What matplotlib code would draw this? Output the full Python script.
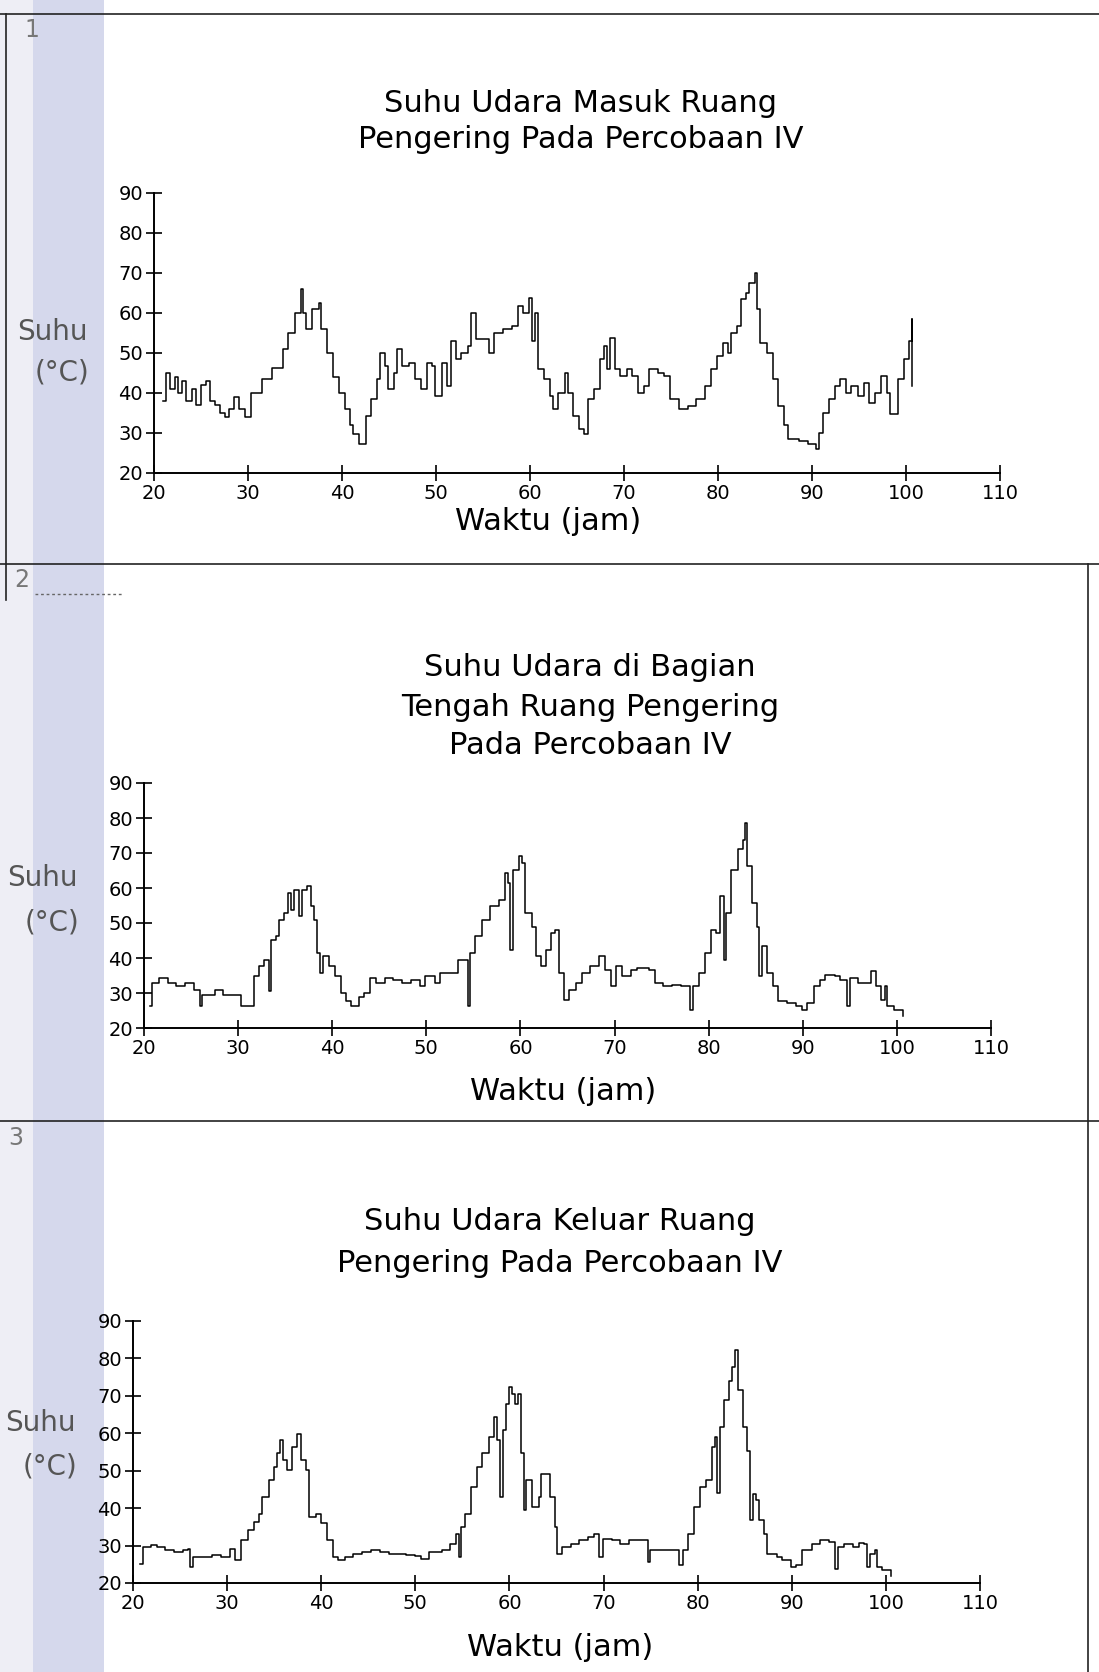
import matplotlib
matplotlib.use("Agg")
import matplotlib.pyplot as plt
from matplotlib.patches import Rectangle
from matplotlib.lines import Line2D

plt.rcParams['font.family'] = ['DejaVu Sans']

# --- data (time in hours, temperature in deg C) ---
t_masuk = [21.0, 21.3, 21.7, 22.2, 22.6, 23.0, 23.4, 24.0, 24.5, 25.0, 25.5, 26.0, 26.5, 27.0,
           27.5, 28.0, 28.5, 29.0, 29.7, 30.3, 31.5, 32.5, 33.4, 33.7, 34.3, 35.0, 35.6, 35.9,
           36.2, 36.8, 37.5, 37.8, 38.4, 39.0, 39.7, 40.3, 40.9, 41.2, 41.8, 42.5, 43.1, 43.7,
           44.0, 44.6, 44.9, 45.5, 45.8, 46.4, 47.1, 47.8, 48.4, 49.0, 49.6, 49.9, 50.6, 51.2,
           51.6, 52.1, 52.7, 53.4, 53.7, 54.3, 54.9, 55.6, 56.2, 57.1, 58.1, 58.7, 59.3, 59.9,
           60.2, 60.5, 60.9, 61.5, 62.1, 62.4, 63.0, 63.7, 64.0, 64.6, 65.2, 65.7, 66.2, 66.8,
           67.4, 67.9, 68.2, 68.5, 69.0, 69.6, 70.3, 70.9, 71.5, 72.1, 72.7, 73.6, 74.3, 74.9,
           75.8, 76.8, 77.7, 78.6, 79.3, 79.9, 80.5, 81.1, 81.4, 82.0, 82.4, 83.0, 83.3, 83.9,
           84.2, 84.5, 85.2, 85.8, 86.4, 87.0, 87.4, 88.6, 89.6, 90.4, 90.7, 91.2, 91.8, 92.4,
           93.0, 93.6, 94.2, 94.9, 95.5, 96.1, 96.7, 97.3, 98.0, 98.3, 98.9, 99.2, 99.8, 100.3,
           100.6, 100.6]
v_masuk = [38, 45, 41, 44, 40, 43, 38, 41, 37, 42, 43, 38, 37, 35,
           34, 36, 39, 36, 34, 40, 43.4, 46.3, 46.3, 51, 55, 60, 66, 60,
           56, 61, 62.5, 56, 50, 44, 40, 36, 32, 29.7, 27.2, 34.3, 38.5, 43.4,
           50, 46.8, 41, 45, 51, 46.8, 47.6, 43.4, 41, 47.6, 46.8, 39.3, 47.6, 41.8,
           53, 48.4, 50, 51.7, 60, 53.4, 53.4, 50, 55, 56, 56.7, 61.7, 60, 63.8,
           53, 60, 46, 43.4, 39.3, 36, 40, 45, 40, 34.3, 31, 29.7, 38.5, 41,
           48.4, 51.7, 46, 53.8, 46, 44.3, 46, 44.3, 40, 41.8, 46, 45, 44.3, 38.5,
           36, 36.8, 38.5, 41.8, 46, 49.3, 52.6, 50, 55, 56.7, 63.4, 65, 67.5, 70,
           61, 52.6, 50, 43.4, 36.8, 32, 28.5, 28, 27.2, 26, 30, 35, 38.5, 41.8,
           43.4, 40, 41.8, 39.3, 42.5, 37.6, 40, 44.3, 40, 34.7, 34.7, 43.4, 48.4, 53,
           58.4, 41.8]

t_tengah = [20.6, 20.9, 21.6, 22.5, 23.4, 24.4, 25.3, 25.9, 26.2, 27.5, 28.4, 30.0, 30.3, 31.2,
            31.7, 32.2, 32.8, 33.3, 33.5, 34.0, 34.3, 34.9, 35.3, 35.6, 35.9, 36.5, 36.8, 37.3,
            37.7, 38.1, 38.4, 38.7, 39.0, 39.7, 40.3, 40.9, 41.5, 42.0, 42.8, 43.4, 44.0, 44.6,
            45.6, 46.5, 47.4, 48.4, 49.3, 49.9, 50.9, 51.5, 52.4, 53.4, 54.3, 54.4, 54.6, 55.2,
            55.9, 56.8, 57.7, 58.4, 58.7, 58.9, 59.2, 59.8, 60.2, 60.5, 61.2, 61.6, 62.2, 62.7,
            63.2, 63.7, 64.1, 64.6, 65.2, 65.9, 66.5, 67.4, 68.3, 69.0, 69.6, 70.2, 70.8, 71.8,
            72.4, 73.7, 74.3, 75.2, 76.1, 77.1, 78.0, 78.3, 79.0, 79.6, 80.2, 80.8, 81.2, 81.6,
            81.8, 82.4, 83.1, 83.7, 83.9, 84.1, 84.6, 85.1, 85.3, 85.7, 86.2, 86.8, 87.4, 88.3,
            89.3, 89.9, 90.5, 91.2, 91.8, 92.4, 93.4, 94.0, 94.7, 95.0, 95.9, 96.9, 97.3, 97.8,
            98.3, 98.7, 99.0, 99.7, 100.6]
v_tengah = [26.2, 32.9, 34.3, 32.9, 31.9, 32.9, 31.0, 26.2, 29.5, 31.0, 29.5, 29.5, 26.2, 26.2,
            34.8, 37.6, 39.5, 30.5, 45.2, 46.2, 51.0, 52.9, 58.6, 53.8, 59.5, 51.9, 59.5, 60.5,
            54.8, 51.0, 41.4, 35.7, 40.5, 37.6, 34.8, 30.0, 27.6, 26.2, 29.0, 30.0, 34.3, 32.9,
            34.3, 33.8, 32.9, 33.8, 31.9, 34.8, 32.9, 35.7, 35.7, 39.5, 39.5, 26.2, 41.4, 46.2,
            51.0, 54.8, 56.7, 64.3, 61.4, 42.4, 65.2, 69.0, 67.1, 52.9, 49.0, 40.5, 37.6, 42.4,
            47.1, 48.1, 35.7, 28.1, 31.0, 32.9, 35.7, 37.6, 40.5, 36.7, 31.9, 37.6, 34.8, 36.7,
            37.1, 36.7, 32.9, 31.9, 32.4, 31.9, 25.2, 31.9, 35.7, 41.4, 48.1, 47.1, 57.6, 39.5,
            52.9, 65.2, 71.0, 73.8, 78.6, 66.2, 55.7, 49.0, 34.8, 43.3, 35.7, 31.9, 27.6, 27.1,
            26.2, 25.2, 27.1, 31.9, 33.8, 35.2, 34.8, 33.8, 26.2, 34.3, 32.9, 32.9, 36.2, 31.9,
            28.1, 31.9, 26.2, 25.2, 23.3]

t_keluar = [20.7, 21.1, 21.9, 22.5, 23.4, 24.4, 25.3, 25.8, 26.1, 26.4, 27.5, 28.4, 29.4, 30.3,
            30.8, 31.5, 32.2, 32.9, 33.4, 33.7, 34.4, 35.0, 35.3, 35.6, 35.9, 36.4, 36.9, 37.4,
            37.8, 38.4, 38.7, 39.4, 40.0, 40.6, 41.2, 41.8, 42.5, 43.4, 44.3, 45.3, 46.2, 47.2,
            48.1, 49.0, 50.0, 50.6, 51.5, 52.8, 53.7, 54.3, 54.6, 54.8, 55.3, 55.9, 56.5, 57.1,
            57.8, 58.4, 58.7, 59.0, 59.3, 59.6, 60.0, 60.3, 60.6, 60.9, 61.2, 61.5, 61.8, 62.4,
            63.1, 63.4, 63.9, 64.3, 64.8, 65.1, 65.6, 66.5, 67.4, 68.4, 69.0, 69.5, 69.9, 70.9,
            71.8, 72.7, 74.3, 74.7, 74.9, 76.2, 77.4, 78.0, 78.4, 79.0, 79.6, 80.2, 80.9, 81.5,
            81.8, 82.1, 82.4, 82.8, 83.3, 83.7, 84.0, 84.3, 84.8, 85.2, 85.6, 85.9, 86.2, 86.5,
            87.1, 87.4, 88.4, 89.0, 89.9, 90.5, 91.1, 92.1, 93.0, 94.0, 94.6, 94.9, 95.5, 96.5,
            97.1, 97.7, 98.0, 98.3, 98.8, 99.1, 99.6, 100.5]
v_keluar = [25.2, 29.6, 30.1, 29.6, 28.9, 28.3, 28.7, 29.2, 24.3, 26.9, 26.9, 27.4, 26.9, 29.2,
            26.1, 31.4, 34.1, 36.3, 38.5, 43.0, 47.4, 51.0, 54.6, 58.1, 52.8, 50.1, 56.3, 59.9,
            52.8, 50.1, 37.6, 38.5, 35.9, 31.4, 26.9, 26.1, 26.9, 27.8, 28.3, 28.7, 28.3, 27.7,
            27.8, 27.4, 27.1, 26.5, 28.3, 28.7, 30.5, 33.2, 26.9, 35.0, 38.5, 45.6, 51.0, 54.6,
            59.0, 64.3, 58.1, 43.0, 60.8, 67.9, 72.4, 70.6, 67.9, 70.6, 54.6, 39.4, 47.5, 40.3,
            43.0, 49.2, 49.2, 43.0, 35.0, 27.8, 29.6, 30.5, 31.4, 32.3, 33.2, 26.9, 31.8, 31.4,
            30.5, 31.6, 31.6, 25.6, 28.9, 28.7, 28.7, 24.7, 28.7, 33.2, 40.3, 45.6, 47.4, 56.3,
            59.0, 44.1, 61.7, 68.8, 74.1, 77.7, 82.2, 71.5, 61.7, 55.4, 36.7, 43.9, 42.1, 36.7,
            33.2, 27.8, 26.9, 26.1, 24.3, 24.7, 28.7, 30.5, 31.4, 31.0, 23.8, 29.6, 30.5, 29.6,
            30.7, 30.5, 24.3, 27.8, 28.7, 24.3, 23.4, 22.0]

x_ticks = [20, 30, 40, 50, 60, 70, 80, 90, 100, 110]
y_ticks = [20, 30, 40, 50, 60, 70, 80, 90]

titles = [["Suhu Udara Masuk Ruang", "Pengering Pada Percobaan IV"],
          ["Suhu Udara di Bagian", "Tengah Ruang Pengering", "Pada Percobaan IV"],
          ["Suhu Udara Keluar Ruang", "Pengering Pada Percobaan IV"]]
series = [(t_masuk, v_masuk), (t_tengah, v_tengah), (t_keluar, v_keluar)]

W, H = 1099, 1672
fig = plt.figure(figsize=(W / 100, H / 100), dpi=100)
fig.patch.set_facecolor('white')


def fx(x):
    return x / W


def fy(y):
    return 1 - y / H


# scanned page: lavender watermark band on the left (kept behind everything)
fig.patches.append(Rectangle((0, 0), fx(33), 1, transform=fig.transFigure,
                             facecolor='#eeeef5', edgecolor='none', zorder=-5))
fig.patches.append(Rectangle((fx(33), 0), fx(104) - fx(33), 1, transform=fig.transFigure,
                             facecolor='#d5d8ec', edgecolor='none', zorder=-5))

# separator lines of the page
for (x0, x1, y0, y1) in [(0, W, 14, 14), (0, W, 564, 564), (0, W, 1121, 1121),
                         (1088, 1088, 564, H), (6, 6, 14, 600)]:
    fig.lines.append(Line2D([fx(x0), fx(x1)], [fy(y0), fy(y1)], transform=fig.transFigure,
                            color='#222222', lw=1.2))
fig.lines.append(Line2D([fx(35), fx(122)], [fy(594), fy(594)], transform=fig.transFigure,
                        color='#666666', lw=1, ls=(0, (2, 2))))
for num, (x, y) in zip(["1", "2", "3"], [(32, 30), (22, 580), (16, 1138)]):
    fig.text(fx(x), fy(y), num, color='#777777', fontsize=17, ha='center', va='center')

# axes boxes in pixels: left, right, top(90), bottom(20)
boxes = [(154, 1000, 193, 473), (144, 991, 783, 1028), (133, 980, 1321, 1583)]
title_y = [[103, 139], [668, 707, 746], [1221, 1263]]
title_x = [581, 590, 560]
xlab = [(548, 522), (563, 1091), (560, 1648)]
ylab = [(52, 332, 372), (42, 878, 922), (40, 1423, 1467)]

for i, (t, v) in enumerate(series):
    l, r, top, bot = boxes[i]
    ax = fig.add_axes([fx(l), fy(bot), fx(r) - fx(l), fy(top) - fy(bot)])
    ax.set_zorder(3)
    ax.patch.set_alpha(0)
    ax.plot(t, v, color='black', lw=1.1, drawstyle='steps-post')
    ax.set_xlim(20, 110)
    ax.set_ylim(20, 90)
    ax.set_xticks(x_ticks)
    ax.set_yticks(y_ticks)
    ax.spines['top'].set_visible(False)
    ax.spines['right'].set_visible(False)
    ax.spines['left'].set_linewidth(1.4)
    ax.spines['bottom'].set_linewidth(1.4)
    ax.tick_params(direction='inout', length=12, width=1.2, labelsize=14, pad=2)

    for line, y in zip(titles[i], title_y[i]):
        fig.text(fx(title_x[i]), fy(y), line, fontsize=22, ha='center', va='center')
    fig.text(fx(xlab[i][0]), fy(xlab[i][1]), "Waktu (jam)", fontsize=22, ha='center', va='center')
    fig.text(fx(ylab[i][0]), fy(ylab[i][1]), "Suhu", fontsize=20, color='#555555',
             ha='center', va='center')
    fig.text(fx(ylab[i][0] + 10), fy(ylab[i][2]), "(°C)", fontsize=20, color='#555555',
             ha='center', va='center')

fig.savefig("out.png", dpi=100)
